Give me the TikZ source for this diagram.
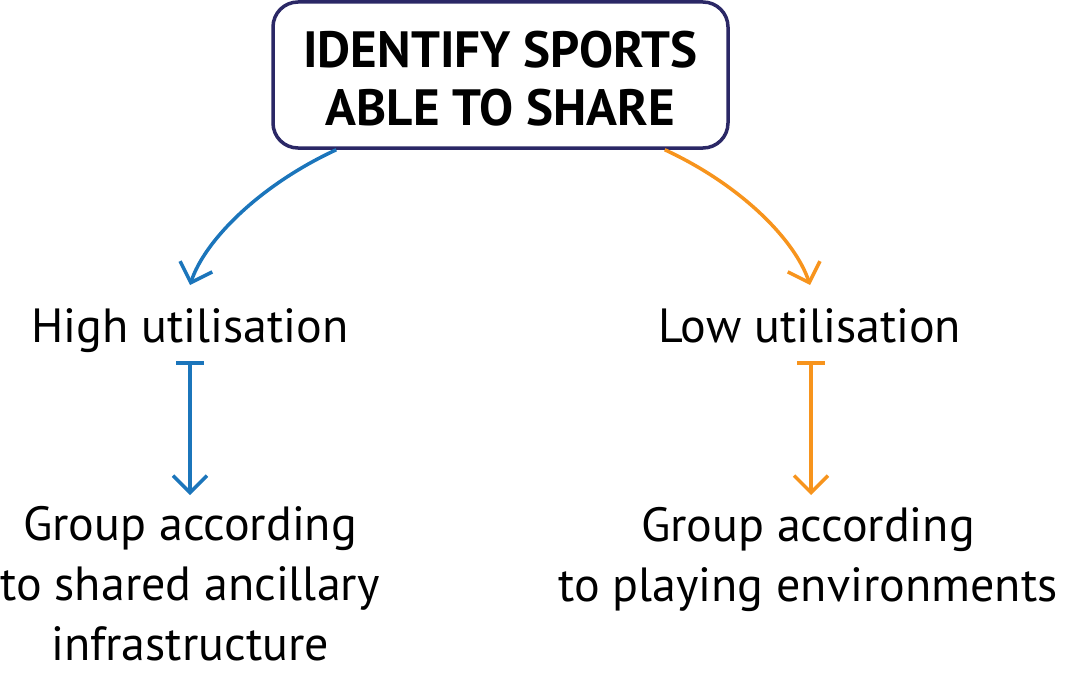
\documentclass[tikz,border=0pt]{standalone}
\usepackage{fontspec}
\setmainfont{PT Sans}
\usetikzlibrary{arrows.meta,calc}
\definecolor{navy}{HTML}{2B2866}
\definecolor{cblue}{HTML}{1B75BB}
\definecolor{corange}{HTML}{F7941D}
\tikzset{
  titlebox/.style={draw=navy,line width=3.5pt,rounded corners=25pt,minimum width=455pt,minimum height=146pt,inner sep=0pt},
  titletext/.style={align=center,inner sep=0pt,font=\fontsize{51}{58}\selectfont\bfseries},
  lbl/.style={align=center,inner sep=0pt,font=\fontsize{48}{60}\selectfont},
  barb/.tip={Straight Barb[length=17pt,width=34pt,line width=3.5pt]},
  conn/.style={line width=3.5pt,-{barb}},
  bconn/.style={line width=3.5pt,{Bar[width=28pt,line width=3.5pt]}-{barb}}
}
\begin{document}
\begin{tikzpicture}[x=1pt,y=-1pt]
\useasboundingbox (0,0) rectangle (1065,674);
\node[titlebox] (t) at (500.5,75) {};
\node[titletext] (tt) at ($(t.center)+(0,4)$) {IDENTIFY SPORTS\\ABLE TO SHARE};
\node[lbl,anchor=base] (hi) at (190,342) {High utilisation};
\node[lbl,anchor=base] (lo) at (810,342) {Low utilisation};
\node[lbl,anchor=north] (g1) at (190,506) {Group according\\to shared ancillary\\infrastructure};
\node[lbl,anchor=north] (g2) at (808,507) {Group according\\to playing environments};
\draw[conn,cblue] ($(t.south west)+(65,0)$) .. controls (260,185) and (205,240) .. ($(hi.base)+(0,-57)$);
\draw[conn,corange] ($(t.south east)+(-65,0)$) .. controls (741,185) and (795,240) .. ($(lo.base)+(0,-57)$);
\draw[bconn,cblue] ($(hi.base)+(0,19)$) -- ($(hi.base)+(0,153)$);
\draw[bconn,corange] ($(lo.base)+(1,19)$) -- ($(lo.base)+(1,153)$);
\end{tikzpicture}
\end{document}
